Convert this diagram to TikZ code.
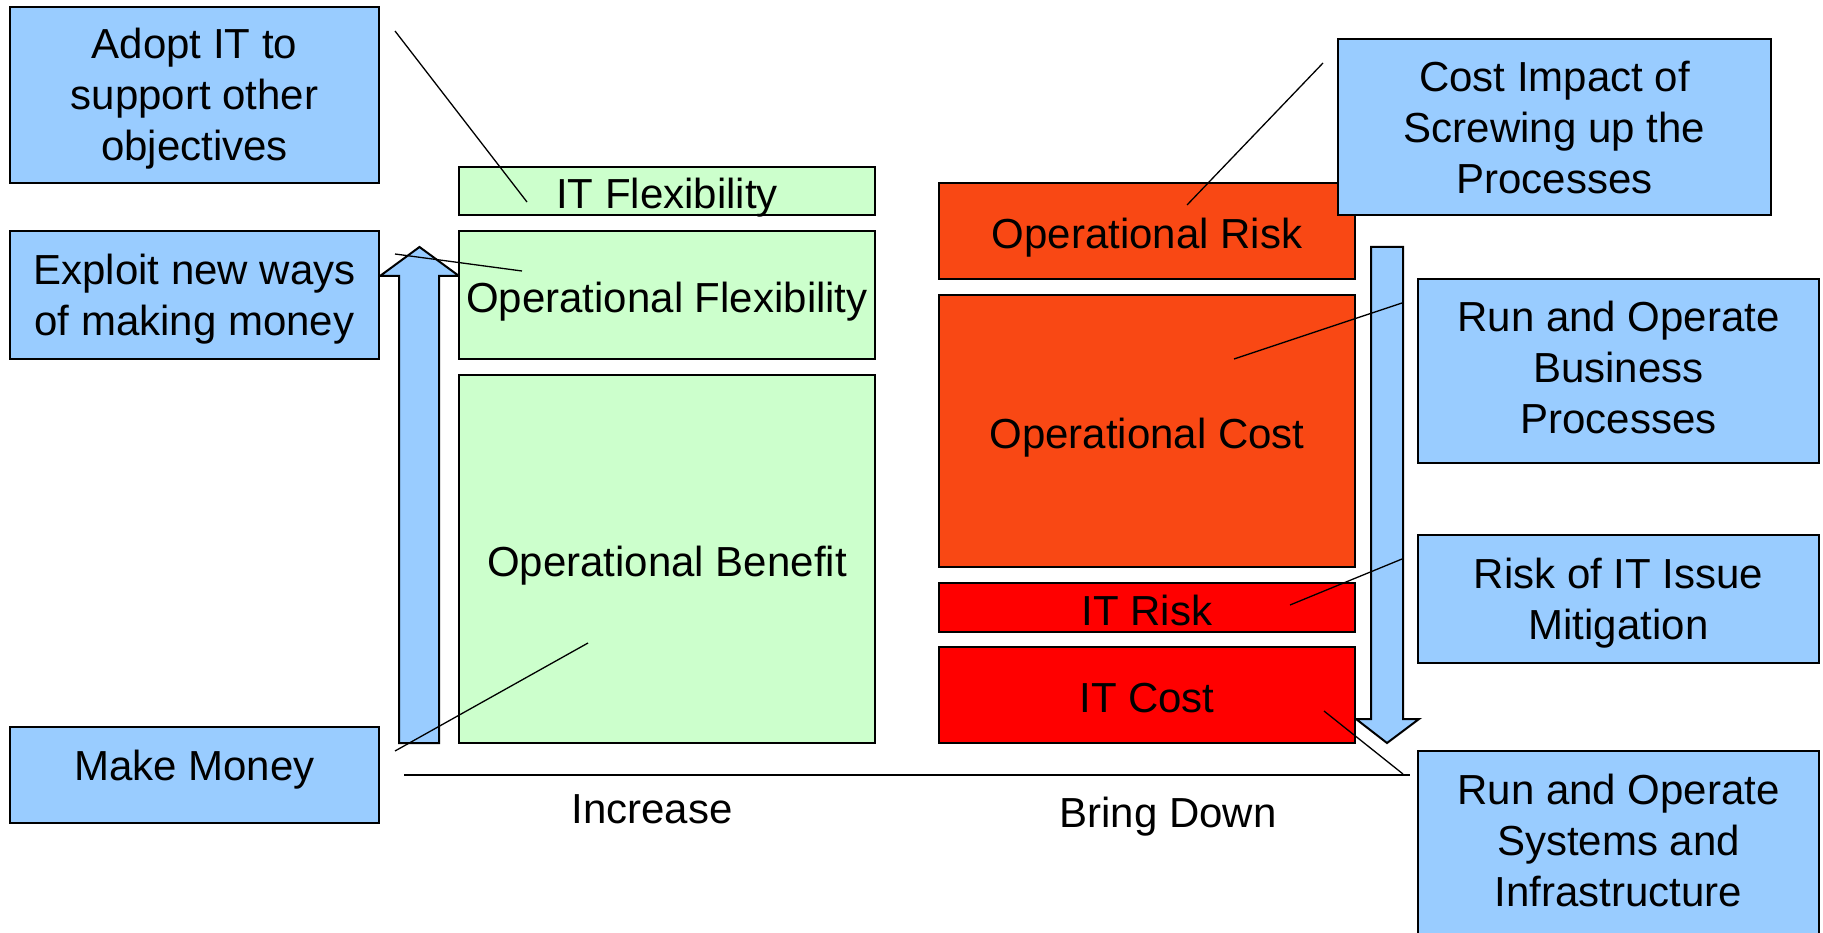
\documentclass[tikz,border=0pt]{standalone}
\usepackage{fontspec}
\setmainfont{Liberation Sans}
\newcommand\bigfs{\fontsize{42}{51}\selectfont}
\definecolor{callblue}{HTML}{99CCFF}
\definecolor{lightgreen}{HTML}{CCFFCC}
\definecolor{oporange}{HTML}{F94814}
\definecolor{itred}{HTML}{FF0000}
\begin{document}
\begin{tikzpicture}[x=1pt,y=-1pt,
  box/.style={draw=black, line width=2pt, inner sep=0pt, align=center, font=\bigfs},
  call/.style={box, fill=callblue},
  stack/.style={box, minimum width=416pt, text height=35pt, text depth=0pt},
  gbox/.style={stack, fill=lightgreen},
  obox/.style={stack, fill=oporange},
  rbox/.style={stack, fill=itred},
  th/.style={text height=#1, text depth=0pt},
  leader/.style={draw=black, line width=1.3pt},
  bigarrow/.style={draw=black, line width=2pt, fill=callblue, line join=miter},
  lbl/.style={font=\bigfs, inner sep=0pt, anchor=base}]
\useasboundingbox (0,0) rectangle (1823,933);
\clip (0,0) rectangle (1823,933);
\fill[white] (0,0) rectangle (1823,933);

% big arrows
\draw[bigarrow] (419.5,247) -- (459,276) -- (439,276) -- (439,743) -- (399,743) -- (399,276) -- (380,276) -- cycle;
\draw[bigarrow] (1371,247) -- (1403,247) -- (1403,719) -- (1419,719) -- (1387,743) -- (1356,719) -- (1371,719) -- cycle;

% green stack
\node[gbox, minimum height=48pt] (itflex) at (667,191) {IT Flexibility};
\node[gbox, minimum height=128pt] (opflex) at (667,295) {Operational Flexibility};
\node[gbox, minimum height=368pt] (opben) at (667,559) {Operational Benefit};

% red stack
\node[obox, minimum height=96pt] (oprisk) at (1147,231) {Operational Risk};
\node[obox, minimum height=272pt] (opcost) at (1147,431) {Operational Cost};
\node[rbox, minimum height=49pt] (itrisk) at (1147,607.5) {IT Risk};
\node[rbox, minimum height=96pt] (itcost) at (1147,695) {IT Cost};

% callouts
\node[call, minimum width=369pt, minimum height=176pt, th=132pt] (adopt) at (194.5,95) {Adopt IT to\\support other\\objectives};
\node[call, minimum width=369pt, minimum height=128pt, th=80pt] (exploit) at (194.5,295) {Exploit new ways\\of making money};
\node[call, minimum width=369pt, minimum height=96pt, th=10pt] (money) at (194.5,775) {Make Money};
\node[call, minimum width=433pt, minimum height=176pt, th=134pt] (costimp) at (1554.5,127) {Cost Impact of\\Screwing up the\\Processes};
\node[call, minimum width=401pt, minimum height=184pt, th=124pt] (runbus) at (1618.5,371) {Run and Operate\\Business\\Processes};
\node[call, minimum width=401pt, minimum height=128pt, th=80pt] (riskit) at (1618.5,599) {Risk of IT Issue\\Mitigation};
\node[call, minimum width=401pt, minimum height=184pt, th=126pt] (runsys) at (1618.5,843) {Run and Operate\\Systems and\\Infrastructure};

% baseline and labels
\coordinate (axl) at (404,775);
\coordinate (axr) at (1410,775);
\draw[line width=2pt] (axl) -- (axr);
\node[lbl] (inc) at (652,823.5) {Increase};
\node[lbl] (bdown) at (1168,827) {Bring Down};

% leader lines
\coordinate (l1a) at (395,31);   \coordinate (l1b) at (527,202);
\coordinate (l2a) at (395,254);  \coordinate (l2b) at (522,271);
\coordinate (l3a) at (395,751);  \coordinate (l3b) at (588,643);
\coordinate (l4a) at (1323,63);  \coordinate (l4b) at (1187,205);
\coordinate (l5a) at (1402,303); \coordinate (l5b) at (1234,359);
\coordinate (l6a) at (1402,559); \coordinate (l6b) at (1290,605);
\coordinate (l7a) at (1403,774); \coordinate (l7b) at (1324,711);
\draw[leader] (l1a) -- (l1b);
\draw[leader] (l2a) -- (l2b);
\draw[leader] (l3a) -- (l3b);
\draw[leader] (l4a) -- (l4b);
\draw[leader] (l5a) -- (l5b);
\draw[leader] (l6a) -- (l6b);
\draw[leader] (l7a) -- (l7b);
\end{tikzpicture}
\end{document}
